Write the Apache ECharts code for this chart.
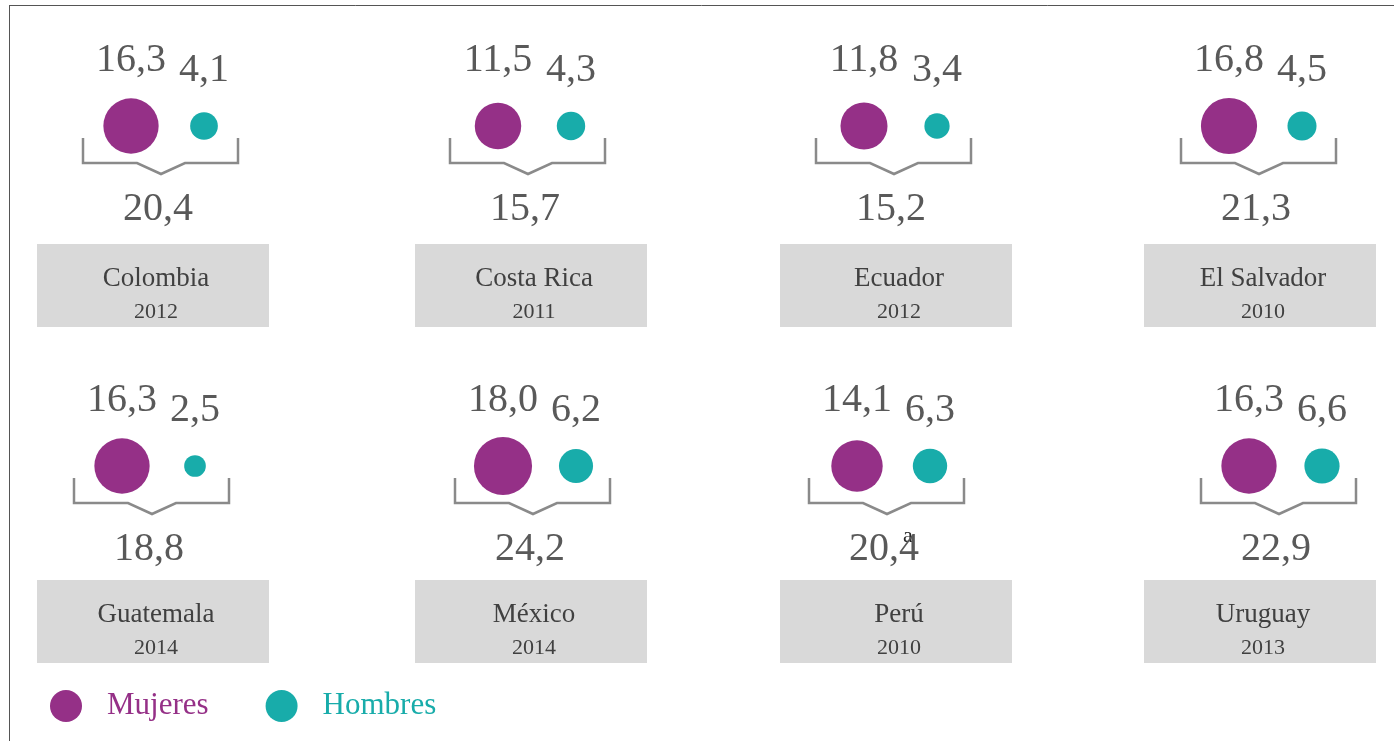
<!DOCTYPE html>
<html>
<head>
<meta charset="utf-8">
<title>Mujeres y hombres por país</title>
<script src="https://cdn.jsdelivr.net/npm/echarts@6/dist/echarts.min.js"></script>
<style>
  html, body { margin: 0; padding: 0; background: #fff; }
  #chart { width: 1394px; height: 741px; }
</style>
</head>
<body>
<div id="chart"></div>
<script>
// datos
const paises = ['Colombia', 'Costa Rica', 'Ecuador', 'El Salvador', 'Guatemala', 'México', 'Perú', 'Uruguay'];
const anios = ['2012', '2011', '2012', '2010', '2014', '2014', '2010', '2013'];
const mujeres = [16.3, 11.5, 11.8, 16.8, 16.3, 18.0, 14.1, 16.3];
const hombres = [4.1, 4.3, 3.4, 4.5, 2.5, 6.2, 6.3, 6.6];
const totales = [20.4, 15.7, 15.2, 21.3, 18.8, 24.2, 20.4, 22.9];
const notas = ['', '', '', '', '', '', 'a', ''];

// posiciones de cada panel (px)
const centroMujeres = [131, 498, 864, 1229, 122, 503, 857, 1249];
const centroY = [126, 126, 126, 126, 466, 466, 466, 466];
const cajaX = [37, 415, 780, 1144, 37, 415, 780, 1144];
const cajaY = [244, 244, 244, 244, 580, 580, 580, 580];
const PASO = 73;      // distancia entre los dos círculos
const ESCALA = 13.7;  // diámetro = ESCALA * raiz(valor)

const MORADO = '#953087';
const TURQUESA = '#18ACAA';
const GRIS_TEXTO = '#595959';
const FUENTE = '"Liberation Serif", "Times New Roman", serif';

function fmt(v) {
    return v.toFixed(1).replace('.', ',');
}

const grids = [], xAxes = [], yAxes = [], series = [], graphic = [];

// marco
graphic.push({ type: 'line', silent: true, shape: { x1: 9, y1: 5.5, x2: 1394, y2: 5.5 }, style: { stroke: '#555', lineWidth: 1 } });
graphic.push({ type: 'line', silent: true, shape: { x1: 9.5, y1: 5, x2: 9.5, y2: 741 }, style: { stroke: '#555', lineWidth: 1 } });

paises.forEach(function (pais, i) {
    grids.push({ left: centroMujeres[i] - PASO / 2, top: centroY[i] - 50, width: PASO * 2, height: 100 });
    xAxes.push({ type: 'value', gridIndex: i, min: -0.5, max: 1.5, show: false });
    yAxes.push({ type: 'value', gridIndex: i, min: -1, max: 1, show: false });

    const etiqueta = function (dy) {
        return {
            show: true, position: 'inside', offset: [0, dy],
            color: GRIS_TEXTO, fontSize: 40, fontFamily: FUENTE,
            formatter: function (p) { return fmt(p.value[2]); }
        };
    };

    series.push({
        name: 'Mujeres', type: 'scatter', xAxisIndex: i, yAxisIndex: i,
        data: [[0, 0, mujeres[i]]],
        symbolSize: function (d) { return ESCALA * Math.sqrt(d[2]); },
        itemStyle: { color: MORADO, opacity: 1 },
        label: etiqueta(-66),
        silent: true
    });
    series.push({
        name: 'Hombres', type: 'scatter', xAxisIndex: i, yAxisIndex: i,
        data: [[1, 0, hombres[i]]],
        symbolSize: function (d) { return ESCALA * Math.sqrt(d[2]); },
        itemStyle: { color: TURQUESA, opacity: 1 },
        label: etiqueta(-56),
        silent: true
    });

    // llave y total
    series.push({
        type: 'custom', xAxisIndex: i, yAxisIndex: i, silent: true,
        data: [[0, 0, totales[i]]],
        renderItem: function (params, api) {
            const p = api.coord([api.value(0), api.value(1)]);
            const x = p[0], y = p[1];
            return {
                type: 'group',
                children: [{
                    type: 'polyline',
                    shape: { points: [[x - 48, y + 12], [x - 48, y + 37], [x + 6, y + 37], [x + 30, y + 48], [x + 54, y + 37], [x + 107, y + 37], [x + 107, y + 12]] },
                    style: { stroke: '#8a8a8a', lineWidth: 2.5, fill: null, lineJoin: 'miter' }
                }, {
                    type: 'text',
                    style: {
                        x: x + 27, y: y + 83, text: fmt(api.value(2)),
                        font: '40px ' + FUENTE, fill: GRIS_TEXTO,
                        align: 'center', verticalAlign: 'middle',
                        textAlign: 'center', textVerticalAlign: 'middle'
                    }
                }]
            };
        }
    });

    // caja con país y año
    const cx = cajaX[i] + 116 + 3;
    graphic.push({ type: 'rect', silent: true, shape: { x: cajaX[i], y: cajaY[i], width: 232, height: 83 }, style: { fill: '#d9d9d9' } });
    graphic.push({
        type: 'text', silent: true,
        style: { x: cx, y: cajaY[i] + 35, text: pais, font: '27px ' + FUENTE, fill: '#404040', align: 'center', verticalAlign: 'middle', textAlign: 'center', textVerticalAlign: 'middle' }
    });
    graphic.push({
        type: 'text', silent: true,
        style: { x: cx, y: cajaY[i] + 68, text: anios[i], font: '22px ' + FUENTE, fill: '#404040', align: 'center', verticalAlign: 'middle', textAlign: 'center', textVerticalAlign: 'middle' }
    });
    if (notas[i]) {
        graphic.push({
            type: 'text', silent: true,
            style: { x: centroMujeres[i] + 51, y: centroY[i] + 70, text: notas[i], font: '22px ' + FUENTE, fill: '#262626', align: 'center', verticalAlign: 'middle', textAlign: 'center', textVerticalAlign: 'middle' }
        });
    }
});

const chart = echarts.init(document.getElementById('chart'));
chart.setOption({
    animation: false,
    backgroundColor: '#fff',
    grid: grids,
    xAxis: xAxes,
    yAxis: yAxes,
    legend: {
        left: 45, top: 685,
        itemWidth: 32, itemHeight: 32, itemGap: 57,
        icon: 'circle', selectedMode: false,
        textStyle: { fontFamily: FUENTE, fontSize: 31, padding: [14, 0, 0, 20] },
        data: [
            { name: 'Mujeres', textStyle: { color: MORADO } },
            { name: 'Hombres', textStyle: { color: TURQUESA } }
        ]
    },
    series: series,
    graphic: graphic
});
window.addEventListener('resize', function () {
    chart.resize();
});
</script>
</body>
</html>
